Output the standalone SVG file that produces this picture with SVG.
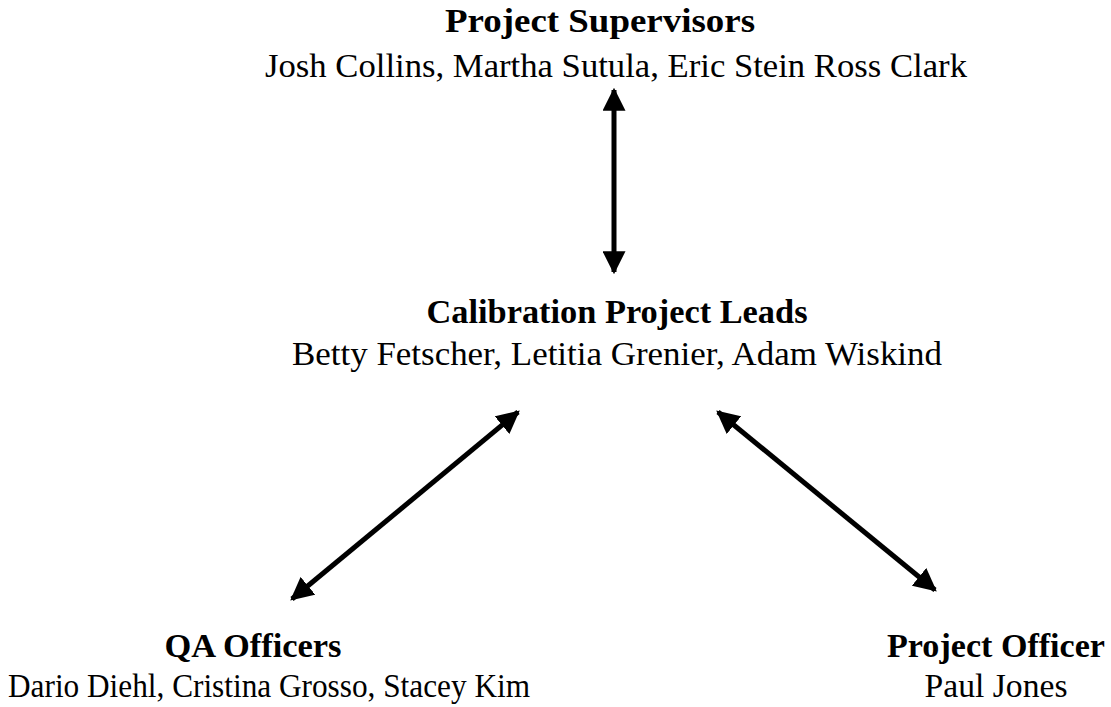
<svg xmlns="http://www.w3.org/2000/svg" width="1111" height="707" viewBox="0 0 1111 707">
<style>
text{font-family:"Liberation Serif","Times New Roman",serif;fill:#000;text-anchor:middle}
.t{font-weight:bold;font-size:34px}
.n{font-size:34px}
.c{stroke:#000;stroke-width:5;fill:none}
</style>
<defs>
<marker id="ah" viewBox="0 0 10 10" refX="9" refY="5" markerWidth="4.6" markerHeight="4.6" orient="auto-start-reverse" markerUnits="strokeWidth">
<path d="M0,0 L10,5 L0,10 z" fill="#000"/>
</marker>
</defs>
<rect width="1111" height="707" fill="#fff"/>
<g id="connectors">
<line class="c" x1="614" y1="90" x2="614" y2="272" marker-start="url(#ah)" marker-end="url(#ah)"/>
<line class="c" x1="518" y1="412" x2="292" y2="599" marker-start="url(#ah)" marker-end="url(#ah)"/>
<line class="c" x1="718" y1="412" x2="935" y2="590" marker-start="url(#ah)" marker-end="url(#ah)"/>
</g>
<g id="supervisors">
<text class="t" x="600" y="32" textLength="310" lengthAdjust="spacingAndGlyphs">Project Supervisors</text>
<text class="n" x="616" y="77" textLength="702" lengthAdjust="spacingAndGlyphs">Josh Collins, Martha Sutula, Eric Stein Ross Clark</text>
</g>
<g id="leads">
<text class="t" x="617" y="323" textLength="381" lengthAdjust="spacingAndGlyphs">Calibration Project Leads</text>
<text class="n" x="617" y="365" textLength="650" lengthAdjust="spacingAndGlyphs">Betty Fetscher, Letitia Grenier, Adam Wiskind</text>
</g>
<g id="qa">
<text class="t" x="253" y="657" textLength="177" lengthAdjust="spacingAndGlyphs">QA Officers</text>
<text class="n" x="269" y="697" textLength="522" lengthAdjust="spacingAndGlyphs">Dario Diehl, Cristina Grosso, Stacey Kim</text>
</g>
<g id="officer">
<text class="t" x="996" y="657" textLength="218" lengthAdjust="spacingAndGlyphs">Project Officer</text>
<text class="n" x="996" y="697" textLength="143" lengthAdjust="spacingAndGlyphs">Paul Jones</text>
</g>
</svg>
